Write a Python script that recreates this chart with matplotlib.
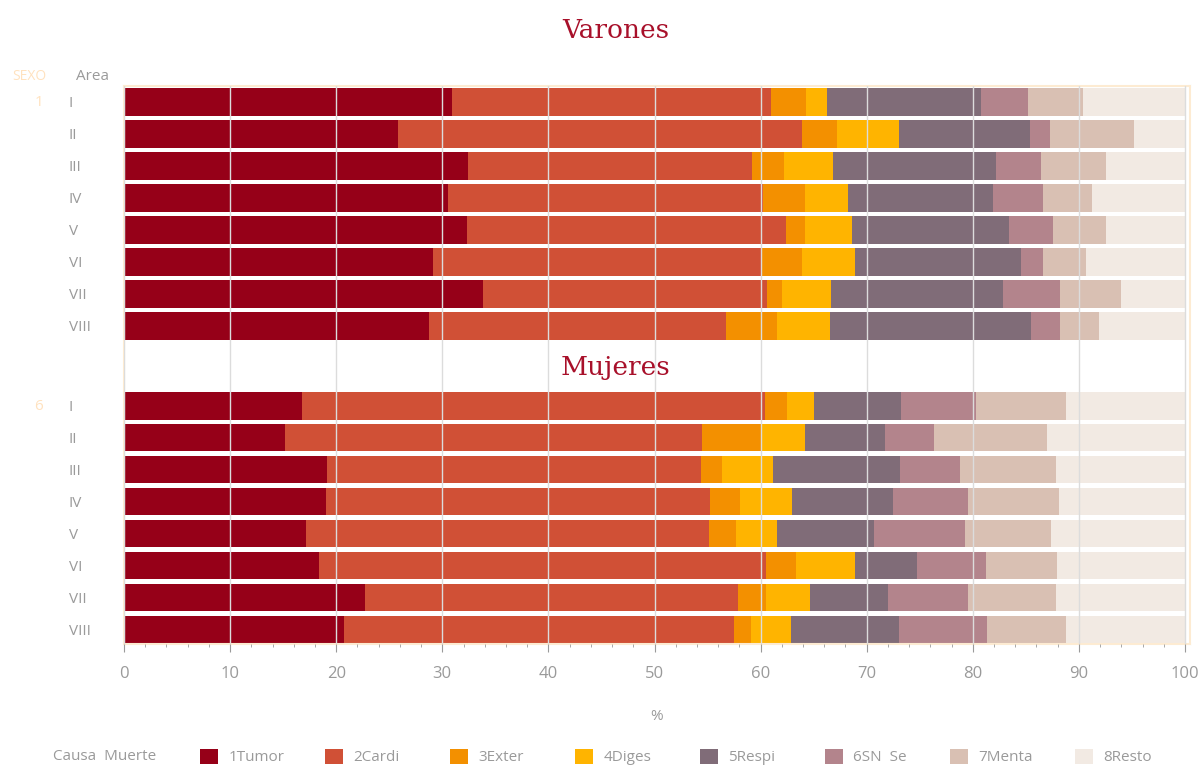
import numpy as np
import matplotlib.pyplot as plt
from matplotlib.patches import Patch
from matplotlib.ticker import MultipleLocator

plt.rcParams['font.family'] = ['Open Sans', 'DejaVu Sans']

areas = ["I", "II", "III", "IV", "V", "VI", "VII", "VIII"]
causes = ["1Tumor", "2Cardi", "3Exter", "4Diges", "5Respi", "6SN  Se", "7Menta", "8Resto"]
colors = ["#960018", "#D05036", "#F39000", "#FFB400",
          "#806C78", "#B3848C", "#D9C0B3", "#F2EAE3"]

# % de defunciones por causa, una fila por area
varones = [
    [30.9, 30.1, 3.3, 2.0, 14.5, 4.4, 5.2, 9.6],
    [25.8, 38.1, 3.3, 5.8, 12.4, 1.9, 7.9, 4.8],
    [32.4, 26.8, 3.0, 4.6, 15.4, 4.2, 6.2, 7.4],
    [30.5, 29.7, 4.0, 4.0, 13.7, 4.7, 4.6, 8.8],
    [32.3, 30.1, 1.8, 4.4, 14.8, 4.2, 5.0, 7.4],
    [29.1, 30.9, 3.9, 5.0, 15.6, 2.1, 4.1, 9.3],
    [33.8, 26.8, 1.4, 4.6, 16.2, 5.4, 5.8, 6.0],
    [28.7, 28.0, 4.8, 5.0, 19.0, 2.7, 3.7, 8.1],
]
mujeres = [
    [16.8, 43.6, 2.1, 2.5, 8.2, 7.1, 8.5, 11.2],
    [15.2, 39.3, 5.6, 4.1, 7.5, 4.6, 10.7, 13.0],
    [19.1, 35.3, 2.0, 4.8, 11.9, 5.7, 9.0, 12.2],
    [19.0, 36.2, 2.9, 4.9, 9.5, 7.0, 8.6, 11.9],
    [17.2, 37.9, 2.6, 3.8, 9.2, 8.6, 8.1, 12.6],
    [18.4, 42.1, 2.8, 5.6, 5.8, 6.5, 6.7, 12.1],
    [22.7, 35.2, 2.6, 4.2, 7.3, 7.5, 8.3, 12.2],
    [20.7, 36.8, 1.6, 3.8, 10.1, 8.3, 7.5, 11.2],
]

grey = "#9A9A9A"
pale = "#FFE2BF"
W, H = 1201, 765

fig = plt.figure(figsize=(W / 100, H / 100), dpi=100)
ax = fig.add_axes([124 / W, 121 / H, (1190 - 124) / W, (644 - 86) / H])

y_var = np.arange(len(areas))
y_muj = np.arange(len(areas)) + 9.5

for data, ypos in [(varones, y_var), (mujeres, y_muj)]:
    vals = np.array(data)
    left = np.zeros(len(areas))
    for j, col in enumerate(colors):
        ax.barh(ypos, vals[:, j], left=left, height=0.86, color=col, zorder=1)
        left += vals[:, j]

ax.set_xlim(0, 100.47)
ax.set_ylim(16.95, -0.5)
ax.xaxis.set_major_locator(MultipleLocator(10))
ax.xaxis.set_minor_locator(MultipleLocator(2))
ax.set_axisbelow(False)
ax.xaxis.grid(True, color="#DCDCDC", linewidth=1.0, zorder=3)

for s in ax.spines.values():
    s.set_color("#FDEBD2")
    s.set_linewidth(1.5)

ax.tick_params(axis="x", which="major", length=6, color=grey, labelcolor=grey,
               labelsize=12, pad=10)
ax.tick_params(axis="x", which="minor", length=2.5, color=grey)

ax.set_yticks(np.concatenate([y_var, y_muj]))
ax.set_yticklabels(areas + areas)
ax.tick_params(axis="y", length=0, labelcolor=grey, labelsize=11, pad=39.6)
for lab in ax.get_yticklabels():
    lab.set_horizontalalignment("left")

# titulos de cada bloque
fig.text(616 / W, 1 - 38 / H, "Varones", family="DejaVu Serif", fontsize=19,
         color="#A8102A", ha="center", va="baseline")
fig.text(616 / W, 1 - 375 / H, "Mujeres", family="DejaVu Serif", fontsize=19,
         color="#A8102A", ha="center", va="baseline")

# cabeceras tipo tabla dinamica
fig.text(12 / W, 1 - 76 / H, "SEXO", fontsize=10, color=pale, va="center")
fig.text(76 / W, 1 - 76 / H, "Area", fontsize=11, color=grey, va="center")
fig.text(43 / W, 1 - 102 / H, "1", fontsize=11, color=pale, ha="right", va="center")
fig.text(43 / W, 1 - 406 / H, "6", fontsize=11, color=pale, ha="right", va="center")

fig.text(657 / W, 1 - 716 / H, "%", fontsize=11, color=grey, ha="center", va="center")

# leyenda
fig.text(156 / W, 1 - 757 / H, "Causa  Muerte", fontsize=11, color=grey,
         ha="right", va="center")
for i, (c, col) in enumerate(zip(causes, colors)):
    fig.legend(handles=[Patch(facecolor=col, label=c)], loc="center left",
               bbox_to_anchor=((200 + 125 * i) / W, 1 - 757 / H),
               frameon=False, handlelength=1.2, handleheight=1.2,
               handletextpad=0.65, fontsize=11, labelcolor=grey,
               borderpad=0, borderaxespad=0)

fig.savefig("out.png", dpi=100)
